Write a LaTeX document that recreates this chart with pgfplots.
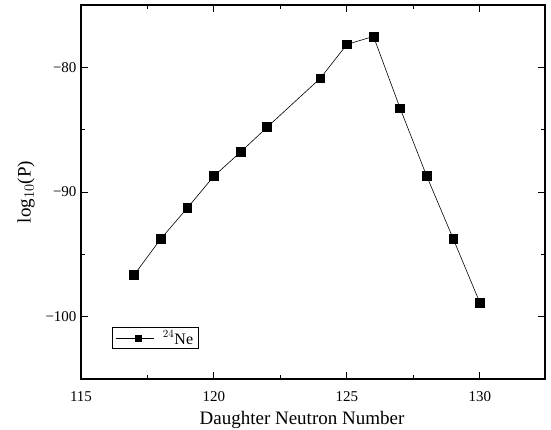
\documentclass[border=0pt]{standalone}
\usepackage{pgfplots}
\pgfplotsset{compat=1.18}
\usepackage{fontspec}
\setmainfont{Liberation Serif}
\begin{document}
\begin{tikzpicture}
\useasboundingbox (-81pt,-50pt) rectangle (470pt,379pt);
\begin{axis}[
  scale only axis, width=464pt, height=374pt,
  xmin=115, xmax=132.45, ymin=-105, ymax=-75,
  xtick={115,120,125,130}, ytick={-100,-90,-80},
  yticklabels={−100,−90,−80},
  minor xtick={117.5,122.5,127.5,132.5}, minor ytick={-105,-95,-85,-75},
  tick align=inside, major tick length=7pt, minor tick length=4pt,
  axis line style={line width=1.3pt}, every tick/.style={line width=1pt,black},
  /pgf/number format/assume math mode=true,
  /pgf/number format/set thousands separator={},
  tick label style={font=\fontsize{15}{17}\selectfont},
  xticklabel style={yshift=-9pt},
  yticklabel style={xshift=-1pt},
  xlabel={Daughter Neutron Number}, ylabel={log$_{10}$(P)},
  label style={font=\fontsize{19}{22}\selectfont},
  xlabel style={yshift=-3pt, xshift=-11pt},
  ylabel style={yshift=4pt},
  legend style={at={(31pt,30pt)}, anchor=south west, draw=black, line width=0.8pt,
    font=\fontsize{16}{18}\selectfont, inner xsep=3pt, inner ysep=1pt},
  legend cell align=left,
  legend image code/.code={
    \draw[line width=0.6pt] (0pt,0pt) -- (38pt,0pt);
    \node[draw=none, fill=black, minimum size=7pt, inner sep=0pt, rectangle] at (19pt,0pt) {};
  },
]
\addplot[black, line width=0.6pt, mark=square*, mark size=4.4pt, mark options={solid}] coordinates {
(117,-96.64) (118,-93.76) (119,-91.28) (120,-88.72) (121,-86.8) (122,-84.8)
(124,-80.88) (125,-78.16) (126,-77.52) (127,-83.28) (128,-88.72) (129,-93.76) (130,-98.88)
};
\addlegendentry{\hspace{7pt}$^{24}$Ne}
\end{axis}
\end{tikzpicture}
\end{document}
